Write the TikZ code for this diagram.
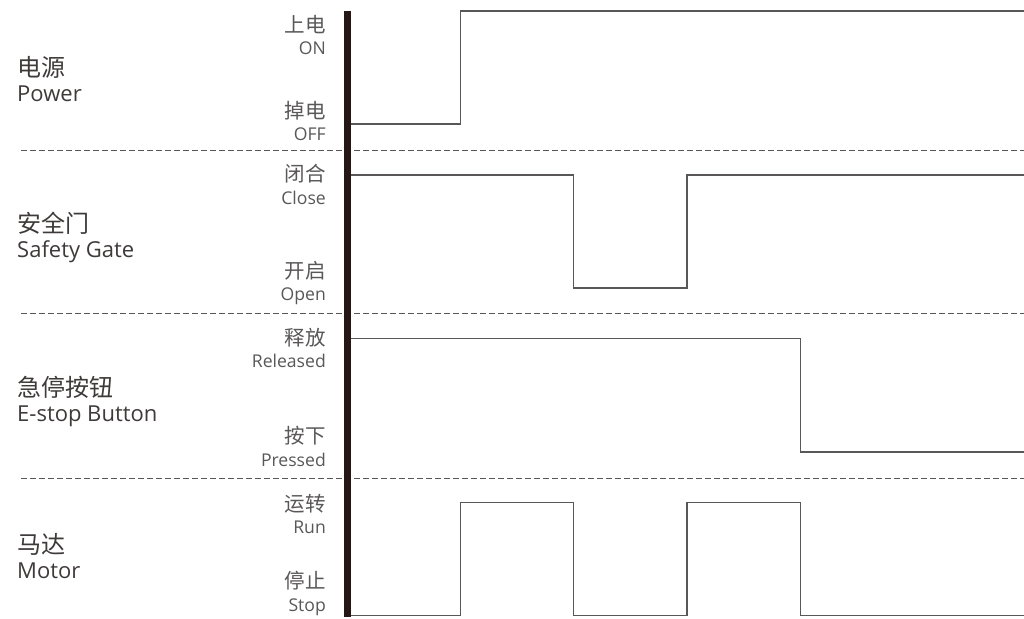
\documentclass[tikz,border=0pt]{standalone}
\usepackage{fontspec}
\setmainfont{Open Sans}
\newfontfamily\cjk{Noto Sans CJK SC}
\definecolor{inkdark}{HTML}{231815}
\definecolor{inkgrey}{HTML}{595757}
\definecolor{textgrey}{HTML}{3E3A39}

\begin{document}
\begin{tikzpicture}[x=1pt,y=-1pt]
	\tikzstyle{lane name}=[anchor=base west,inner sep=0pt,text=textgrey]
	\tikzstyle{level name}=[anchor=base east,inner sep=0pt,text=inkgrey]
	\tikzstyle{signal}=[draw=inkgrey,line width=1.3pt,line join=miter]
	\tikzstyle{divider}=[draw=inkgrey,line width=1pt,dash pattern=on 5.5pt off 3.5pt]
	\tikzstyle{time axis}=[draw=inkdark,line width=7pt]

	\useasboundingbox (0,0) rectangle (1024,618);

	% Lane names on the left
	\foreach \name/\y/\cn/\en in {P/67/电源/Power, G/223/安全门/Safety Gate,
		E/387/急停按钮/E-stop Button, M/544/马达/Motor}
	{
		\node[lane name,font=\cjk\fontsize{24}{27}\selectfont] (\name-cn) at (17,\y+9) {\cn};
		\node[lane name,font=\fontsize{22}{25}\selectfont] (\name-en) at (17,\y+34) {\en};
	}

	% Level names beside the axis
	\foreach \name/\y/\cn/\en in {P-hi/25/上电/ON, P-lo/110.5/掉电/OFF,
		G-hi/174/闭合/Close, G-lo/270.5/开启/Open,
		E-hi/337.5/释放/Released, E-lo/436/按下/Pressed,
		M-hi/503.5/运转/Run, M-lo/581/停止/Stop}
	{
		\node[level name,font=\cjk\fontsize{20.5}{24}\selectfont] (\name-cn) at (326,\y+7.8) {\cn};
		\node[level name,font=\fontsize{17.6}{20}\selectfont] (\name-en) at (326,\y+30) {\en};
	}

	% Lane dividers
	\foreach \y in {150.5,313.5,478.5}
	\path[divider] (21,\y) -- (1024,\y);

	% Signals
	\path[signal] (350,124) -- (460.5,124) -- (460.5,11) -- (1024,11);
	\path[signal] (350,175) -- (573.5,175) -- (573.5,288) -- (687,288)
		-- (687,175) -- (1024,175);
	\path[signal] (350,338.5) -- (800.5,338.5) -- (800.5,452) -- (1024,452);
	\path[signal] (350,615.5) -- (460.5,615.5) -- (460.5,502.5) -- (573.5,502.5)
		-- (573.5,615.5) -- (687,615.5) -- (687,502.5) -- (800.5,502.5)
		-- (800.5,615.5) -- (1024,615.5);

	% Time axis
	\path[time axis] (347,11) -- (347,617);
\end{tikzpicture}
\end{document}
